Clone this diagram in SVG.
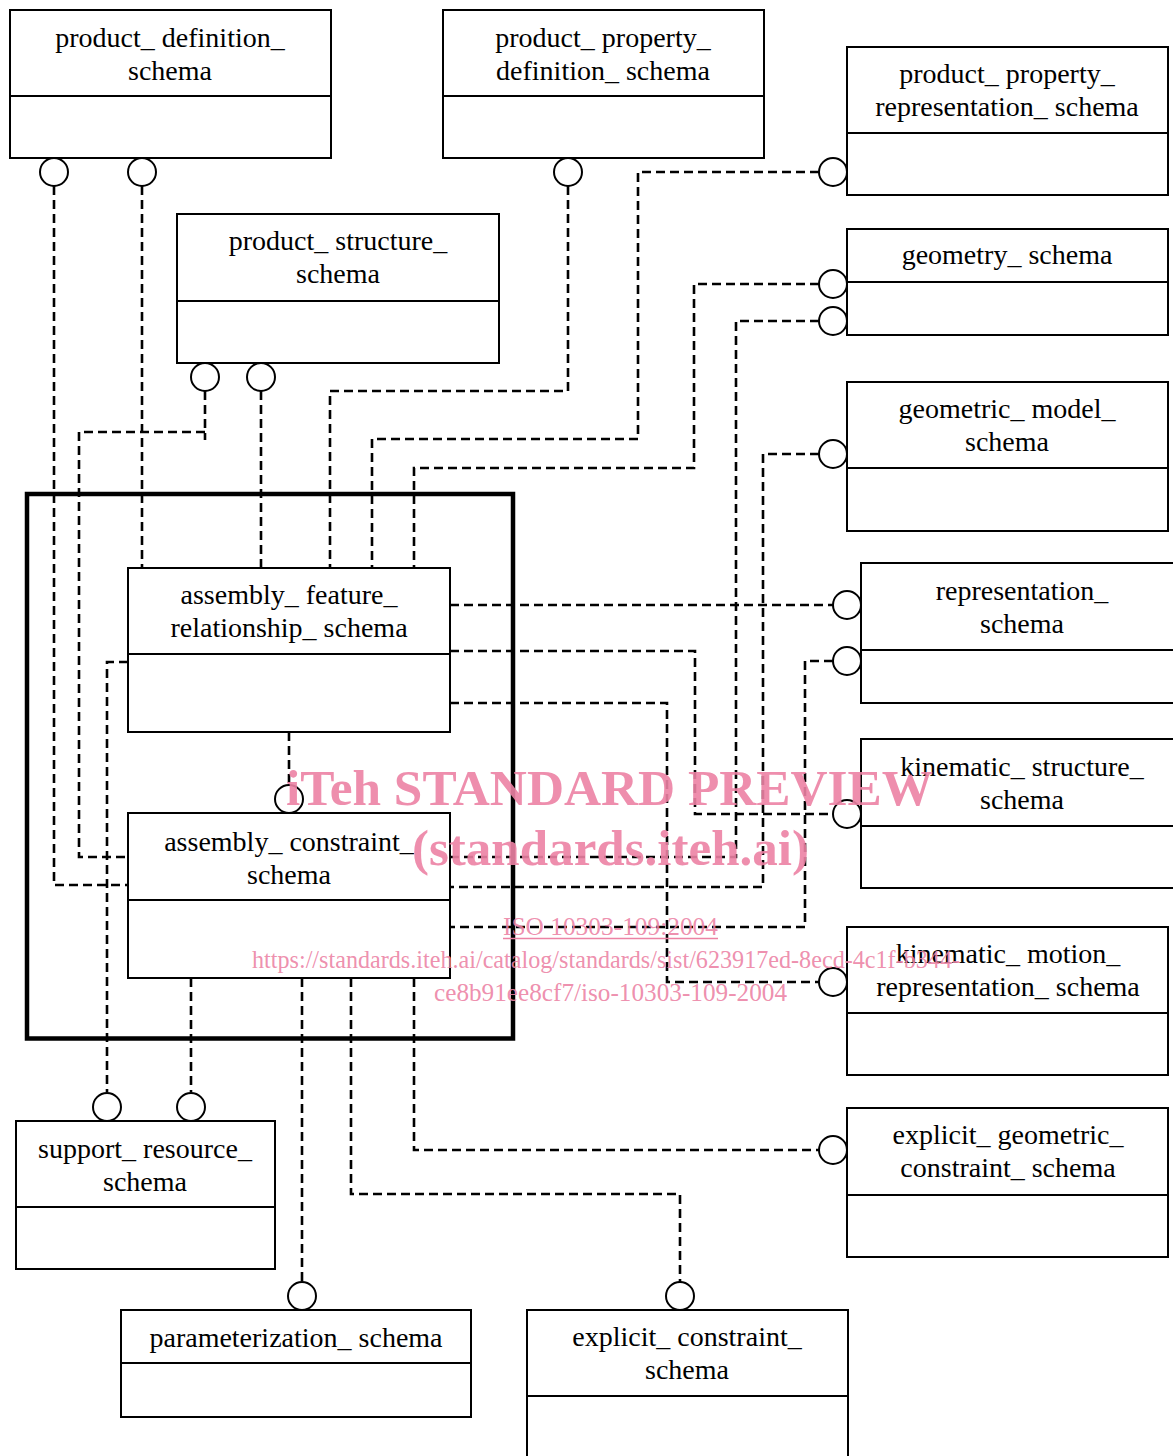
<svg xmlns="http://www.w3.org/2000/svg" width="1173" height="1456" viewBox="0 0 1173 1456">
<style>
  .box { fill: #fff; stroke: #000; stroke-width: 2; }
  .div { stroke: #000; stroke-width: 2; }
  .lbl { font-family: "Liberation Serif", "Times New Roman", serif; font-size: 28px; fill: #000; text-anchor: middle; }
  .con { fill: none; stroke: #000; stroke-width: 2.6; stroke-dasharray: 9 5; }
  .pin { fill: #fff; stroke: #000; stroke-width: 2; }
  .frame { fill: none; stroke: #000; stroke-width: 4.5; }
  .wm { font-family: "Liberation Serif", "Times New Roman", serif; fill: #ec82a4; fill-opacity: 0.9; }
</style>
<rect x="0" y="0" width="1173" height="1456" fill="#fff"/>

<rect class="frame" x="27" y="494" width="486" height="544.5"/>

<g id="connectors">
  <polyline class="con" points="54,186 54,885 128,885"/>
  <polyline class="con" points="142,186 142,568"/>
  <polyline class="con" points="205,391 205,440"/>
  <polyline class="con" points="205,432 79,432 79,857 128,857"/>
  <polyline class="con" points="261,391 261,568"/>
  <polyline class="con" points="568,186 568,391 330,391 330,568"/>
  <polyline class="con" points="819,172 638,172 638,439 372,439 372,568"/>
  <polyline class="con" points="819,284 694,284 694,468 414,468 414,568"/>
  <polyline class="con" points="819,321 736,321 736,857 450,857"/>
  <polyline class="con" points="819,454 763,454 763,887 450,887"/>
  <polyline class="con" points="450,605 833,605"/>
  <polyline class="con" points="450,651 695,651 695,814 833,814"/>
  <polyline class="con" points="450,703 667,703 667,982 819,982"/>
  <polyline class="con" points="833,661 805,661 805,927 450,927"/>
  <polyline class="con" points="128,662 107,662 107,1092"/>
  <polyline class="con" points="191,978 191,1092"/>
  <polyline class="con" points="302,978 302,1282"/>
  <polyline class="con" points="351,978 351,1194 680,1194 680,1282"/>
  <polyline class="con" points="414,978 414,1150 819,1150"/>
  <polyline class="con" points="289,732 289,785"/>
</g>

<g id="product_definition_schema">
  <rect class="box" x="10" y="10" width="321" height="148"/>
  <line class="div" x1="10" y1="96" x2="331" y2="96"/>
  <text class="lbl" x="170" y="47">product_ definition_</text>
  <text class="lbl" x="170" y="80">schema</text>
  <circle class="pin" cx="54" cy="172" r="14"/>
  <circle class="pin" cx="142" cy="172" r="14"/>
</g>

<g id="product_property_definition_schema">
  <rect class="box" x="443" y="10" width="321" height="148"/>
  <line class="div" x1="443" y1="96" x2="764" y2="96"/>
  <text class="lbl" x="603" y="47">product_ property_</text>
  <text class="lbl" x="603" y="80">definition_ schema</text>
  <circle class="pin" cx="568" cy="172" r="14"/>
</g>

<g id="product_property_representation_schema">
  <rect class="box" x="847" y="47" width="321" height="148"/>
  <line class="div" x1="847" y1="133" x2="1168" y2="133"/>
  <text class="lbl" x="1007" y="83">product_ property_</text>
  <text class="lbl" x="1007" y="116">representation_ schema</text>
  <circle class="pin" cx="833" cy="172" r="14"/>
</g>

<g id="product_structure_schema">
  <rect class="box" x="177" y="214" width="322" height="149"/>
  <line class="div" x1="177" y1="301" x2="499" y2="301"/>
  <text class="lbl" x="338" y="250">product_ structure_</text>
  <text class="lbl" x="338" y="283">schema</text>
  <circle class="pin" cx="205" cy="377" r="14"/>
  <circle class="pin" cx="261" cy="377" r="14"/>
</g>

<g id="geometry_schema">
  <rect class="box" x="847" y="229" width="321" height="106"/>
  <line class="div" x1="847" y1="282" x2="1168" y2="282"/>
  <text class="lbl" x="1007" y="264">geometry_ schema</text>
  <circle class="pin" cx="833" cy="284" r="14"/>
  <circle class="pin" cx="833" cy="321" r="14"/>
</g>

<g id="geometric_model_schema">
  <rect class="box" x="847" y="382" width="321" height="149"/>
  <line class="div" x1="847" y1="468" x2="1168" y2="468"/>
  <text class="lbl" x="1007" y="418">geometric_ model_</text>
  <text class="lbl" x="1007" y="451">schema</text>
  <circle class="pin" cx="833" cy="454" r="14"/>
</g>

<g id="representation_schema">
  <rect class="box" x="861" y="563" width="322" height="140"/>
  <line class="div" x1="861" y1="650" x2="1183" y2="650"/>
  <text class="lbl" x="1022" y="600">representation_</text>
  <text class="lbl" x="1022" y="633">schema</text>
  <circle class="pin" cx="847" cy="605" r="14"/>
  <circle class="pin" cx="847" cy="661" r="14"/>
</g>

<g id="kinematic_structure_schema">
  <rect class="box" x="861" y="739" width="322" height="149"/>
  <line class="div" x1="861" y1="826" x2="1183" y2="826"/>
  <text class="lbl" x="1022" y="776">kinematic_ structure_</text>
  <text class="lbl" x="1022" y="809">schema</text>
  <circle class="pin" cx="847" cy="814" r="14"/>
</g>

<g id="kinematic_motion_representation_schema">
  <rect class="box" x="847" y="927" width="321" height="148"/>
  <line class="div" x1="847" y1="1013" x2="1168" y2="1013"/>
  <text class="lbl" x="1008" y="963">kinematic_ motion_</text>
  <text class="lbl" x="1008" y="996">representation_ schema</text>
  <circle class="pin" cx="833" cy="982" r="14"/>
</g>

<g id="explicit_geometric_constraint_schema">
  <rect class="box" x="847" y="1108" width="321" height="149"/>
  <line class="div" x1="847" y1="1195" x2="1168" y2="1195"/>
  <text class="lbl" x="1008" y="1144">explicit_ geometric_</text>
  <text class="lbl" x="1008" y="1177">constraint_ schema</text>
  <circle class="pin" cx="833" cy="1150" r="14"/>
</g>

<g id="assembly_feature_relationship_schema">
  <rect class="box" x="128" y="568" width="322" height="164"/>
  <line class="div" x1="128" y1="654" x2="450" y2="654"/>
  <text class="lbl" x="289" y="604">assembly_ feature_</text>
  <text class="lbl" x="289" y="637">relationship_ schema</text>
</g>

<g id="assembly_constraint_schema">
  <rect class="box" x="128" y="813" width="322" height="165"/>
  <line class="div" x1="128" y1="900" x2="450" y2="900"/>
  <text class="lbl" x="289" y="851">assembly_ constraint_</text>
  <text class="lbl" x="289" y="884">schema</text>
  <circle class="pin" cx="289" cy="799" r="14"/>
</g>

<g id="support_resource_schema">
  <rect class="box" x="16" y="1121" width="259" height="148"/>
  <line class="div" x1="16" y1="1207" x2="275" y2="1207"/>
  <text class="lbl" x="145" y="1158">support_ resource_</text>
  <text class="lbl" x="145" y="1191">schema</text>
  <circle class="pin" cx="107" cy="1107" r="14"/>
  <circle class="pin" cx="191" cy="1107" r="14"/>
</g>

<g id="parameterization_schema">
  <rect class="box" x="121" y="1310" width="350" height="107"/>
  <line class="div" x1="121" y1="1363" x2="471" y2="1363"/>
  <text class="lbl" x="296" y="1347">parameterization_ schema</text>
  <circle class="pin" cx="302" cy="1296" r="14"/>
</g>

<g id="explicit_constraint_schema">
  <rect class="box" x="527" y="1310" width="321" height="160"/>
  <line class="div" x1="527" y1="1396" x2="848" y2="1396"/>
  <text class="lbl" x="687" y="1346">explicit_ constraint_</text>
  <text class="lbl" x="687" y="1379">schema</text>
  <circle class="pin" cx="680" cy="1296" r="14"/>
</g>

<g id="watermark">
  <text class="wm" x="286" y="805" font-size="50" font-weight="bold" textLength="647" lengthAdjust="spacingAndGlyphs">iTeh STANDARD PREVIEW</text>
  <text class="wm" x="412" y="865" font-size="50" font-weight="bold" textLength="397" lengthAdjust="spacingAndGlyphs">(standards.iteh.ai)</text>
  <text class="wm" x="503" y="935" font-size="26" textLength="215" lengthAdjust="spacingAndGlyphs">ISO 10303-109:2004</text>
  <line x1="503" y1="938.5" x2="718" y2="938.5" stroke="#ec82a4" stroke-width="1.5"/>
  <text class="wm" x="252" y="968" font-size="26" textLength="708" lengthAdjust="spacingAndGlyphs">https://standards.iteh.ai/catalog/standards/sist/623917ed-8ecd-4c1f-b344-</text>
  <text class="wm" x="434" y="1001" font-size="26" textLength="353" lengthAdjust="spacingAndGlyphs">ce8b91ee8cf7/iso-10303-109-2004</text>
</g>
</svg>
